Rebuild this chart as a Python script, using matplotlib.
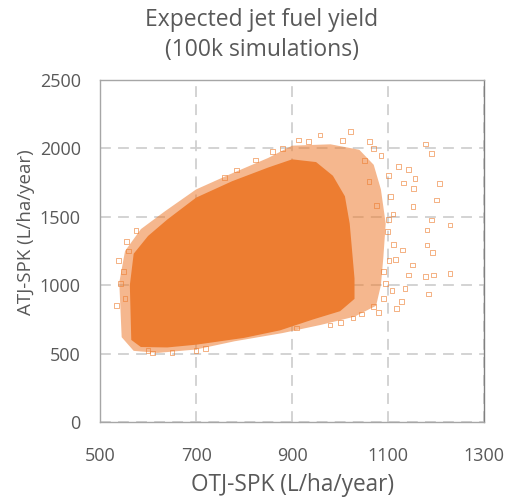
import matplotlib
matplotlib.use('Agg')
import matplotlib.pyplot as plt

# dense core of the 100k-point cloud (outline)
core_x = [565, 562, 570, 600, 640, 700, 775, 850, 900, 950, 985, 1010, 1020, 1025, 1030, 1030, 1000, 944, 875, 800, 700, 640, 585]
core_y = [600, 1000, 1230, 1360, 1480, 1640, 1760, 1860, 1920, 1900, 1800, 1650, 1450, 1250, 1050, 900, 810, 750, 670, 615, 565, 545, 548]

# sparser fringe around the core
fringe_x = [545, 540, 552, 585, 635, 700, 770, 850, 900, 980, 1040, 1070, 1085, 1095, 1090, 1085, 1075, 1030, 960, 880, 780, 700, 620, 570]
fringe_y = [620, 1020, 1250, 1410, 1540, 1700, 1810, 1930, 2020, 2030, 1990, 1880, 1700, 1450, 1200, 1000, 850, 770, 710, 650, 590, 530, 505, 520]

# isolated simulations outside the cloud
out_x = [958, 1021, 913, 1062, 1178, 1191, 1142, 1156, 1207, 1153, 1200, 1152, 1121, 1132, 1181, 1229,
         1191, 1181, 1193, 1229, 1194, 1178, 1184, 1151, 1142, 1135, 1128, 1118, 1130, 1069, 1027, 979,
         910, 542, 552, 548, 560, 785, 823, 600, 650, 700,
         1100, 1105, 1110, 1098, 1112, 1102, 1095, 1108, 1090, 1085, 1070, 1060, 1080, 1050, 1005, 935,
         860, 880, 1000, 1045, 1075, 1090, 1115, 1100, 535, 538, 555, 575, 610, 720, 760]
out_y = [2098, 2122, 2061, 2049, 2032, 1964, 1847, 1781, 1745, 1708, 1623, 1574, 1866, 1747, 1404, 1440,
         1477, 1294, 1238, 1087, 1075, 1062, 936, 1148, 1075, 977, 880, 831, 1257, 843, 760, 709,
         687, 1015, 900, 1100, 1250, 1842, 1915, 520, 510, 525,
         1800, 1650, 1520, 1390, 1300, 1180, 1010, 960, 900, 1950, 2000, 1760, 800, 1910, 2060, 2050,
         1980, 2000, 730, 790, 1580, 1100, 1190, 1480, 850, 1180, 1320, 1400, 505, 540, 1790]

orange = '#ED7D31'
txt = '#595959'

plt.rcParams['font.family'] = ['Open Sans', 'DejaVu Sans']

fig = plt.figure(figsize=(5.08, 5.0), dpi=100)
ax = fig.add_axes([0.197, 0.156, 0.756, 0.684])

ax.fill(fringe_x, fringe_y, color=orange, alpha=0.55, lw=0)
ax.fill(core_x, core_y, color=orange, lw=0)
ax.scatter(out_x, out_y, marker='s', s=12, facecolors='none', edgecolors=orange, linewidths=0.7, alpha=0.6)

ax.set_xlim(500, 1300)
ax.set_ylim(0, 2500)
ax.set_xticks([500, 700, 900, 1100, 1300])
ax.set_yticks([0, 500, 1000, 1500, 2000, 2500])
ax.grid(True, color='#D0D0D0', linestyle=(0, (6, 4)), linewidth=1.3)
ax.set_axisbelow(True)
for s in ax.spines.values():
    s.set_color('#A6A6A6')
    s.set_linewidth(1.0)
ax.spines['right'].set_color('#808080')
ax.tick_params(length=0, labelsize=13, colors=txt)
ax.tick_params(axis='x', pad=18)
ax.tick_params(axis='y', pad=14)

fig.text(0.515, 0.93, 'Expected jet fuel yield\n(100k simulations)', ha='center', va='center',
         fontsize=16.5, color=txt, linespacing=1.3)
ax.set_xlabel('OTJ-SPK (L/ha/year)', fontsize=16.3, color=txt, labelpad=6)
fig.text(0.051, 0.536, 'ATJ-SPK (L/ha/year)', rotation=90, ha='center', va='center', fontsize=13.5, color=txt)

plt.savefig('out.png', dpi=100)
